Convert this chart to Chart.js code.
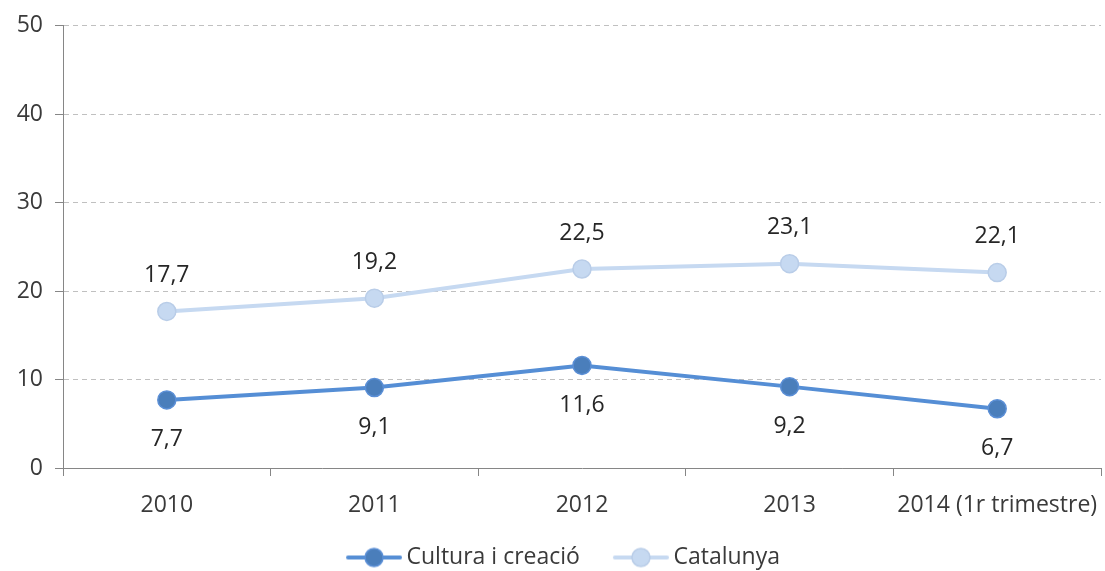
<!DOCTYPE html>
<html>
<head>
<meta charset="utf-8">
<script src="https://cdn.jsdelivr.net/npm/chart.js@4"></script>
<style>
  html, body { margin: 0; padding: 0; background: #fff; }
  #wrap { width: 1105px; height: 571px; }
</style>
</head>
<body>
<div id="wrap"><canvas id="chart" width="1105" height="571"></canvas></div>
<script>
const years = ['2010', '2011', '2012', '2013', '2014 (1r trimestre)'];
const cultura = [7.7, 9.1, 11.6, 9.2, 6.7];
const catalunya = [17.7, 19.2, 22.5, 23.1, 22.1];
const yTicks = [0, 10, 20, 30, 40, 50];

const FONT = "'Open Sans', sans-serif";
const TEXT = '#3a3a3a';
const SIZE = 23;

// legend swatch: line with a dot in the middle, drawn on the right part of the image
function swatch(line, fill, border) {
    const c = document.createElement('canvas');
    c.width = 76; c.height = 22;
    const x = c.getContext('2d');
    x.strokeStyle = line; x.lineWidth = 4; x.lineCap = 'round';
    x.beginPath(); x.moveTo(22, 11); x.lineTo(74, 11); x.stroke();
    x.fillStyle = fill; x.strokeStyle = border; x.lineWidth = 1.5;
    x.beginPath(); x.arc(48, 11, 9, 0, Math.PI * 2); x.fill(); x.stroke();
    return c;
}

const valueLabels = {
    id: 'valueLabels',
    afterDatasetsDraw(chart) {
        const ctx = chart.ctx;
        ctx.save();
        ctx.font = SIZE + 'px ' + FONT;
        ctx.fillStyle = '#262626';
        ctx.textAlign = 'center';
        ctx.textBaseline = 'middle';
        chart.data.datasets.forEach((ds, i) => {
            const meta = chart.getDatasetMeta(i);
            meta.data.forEach((pt, j) => {
                const txt = String(ds.data[j]).replace('.', ',');
                ctx.fillText(txt, pt.x, pt.y + ds.labelOffset);
            });
        });
        ctx.restore();
    }
};

new Chart(document.getElementById('chart'), {
    type: 'line',
    data: {
        labels: years,
        datasets: [{
            label: 'Cultura i creació',
            data: cultura,
            borderColor: '#558ed5',
            backgroundColor: '#4a7ebb',
            pointBackgroundColor: '#4a7ebb',
            pointBorderColor: '#5b8fd6',
            pointBorderWidth: 1.5,
            pointRadius: 9,
            borderWidth: 4,
            labelOffset: 40,
            legendImg: swatch('#558ed5', '#4a7ebb', '#5b8fd6')
        }, {
            label: 'Catalunya',
            data: catalunya,
            borderColor: '#c6d9f1',
            backgroundColor: '#c6d9f1',
            pointBackgroundColor: '#c6d9f1',
            pointBorderColor: '#b9cde8',
            pointBorderWidth: 1.5,
            pointRadius: 9,
            borderWidth: 4,
            labelOffset: -36,
            legendImg: swatch('#c6d9f1', '#c6d9f1', '#b9cde8')
        }]
    },
    options: {
        responsive: false,
        animation: false,
        layout: { autoPadding: false, padding: { top: 24, right: 4, left: 12, bottom: -8 } },
        plugins: {
            tooltip: { enabled: false },
            legend: {
                position: 'bottom',
                labels: {
                    usePointStyle: true,
                    pointStyleWidth: 62,
                    padding: 20,
                    color: TEXT,
                    font: { family: FONT, size: SIZE },
                    generateLabels(chart) {
                        return chart.data.datasets.map((ds, i) => ({
                            text: ds.label,
                            pointStyle: ds.legendImg,
                            fillStyle: ds.backgroundColor,
                            strokeStyle: ds.borderColor,
                            lineWidth: 0,
                            fontColor: TEXT,
                            hidden: false,
                            datasetIndex: i
                        }));
                    }
                }
            }
        },
        scales: {
            x: {
                offset: true,
                afterFit(axis) {
                    axis.height = 58;
                    axis.paddingLeft = 0;
                    axis.paddingRight = 0;
                },
                grid: {
                    offset: true,
                    drawOnChartArea: false,
                    drawTicks: true,
                    tickLength: 8,
                    color: '#868686'
                },
                border: { color: '#868686', width: 1 },
                ticks: { color: TEXT, font: { family: FONT, size: SIZE }, padding: 16, maxRotation: 0 }
            },
            y: {
                min: 0,
                max: 50,
                afterBuildTicks(axis) { axis.ticks = yTicks.map(v => ({ value: v })); },
                afterFit(axis) { axis.width = 51; },
                grid: {
                    color: '#c0c0c0',
                    tickColor: '#868686',
                    tickLength: 8,
                    tickBorderDash: []
                },
                border: { color: '#868686', width: 1, dash: [5, 4] },
                ticks: { color: TEXT, font: { family: FONT, size: SIZE }, padding: 12 }
            }
        }
    },
    plugins: [valueLabels]
});
</script>
</body>
</html>
